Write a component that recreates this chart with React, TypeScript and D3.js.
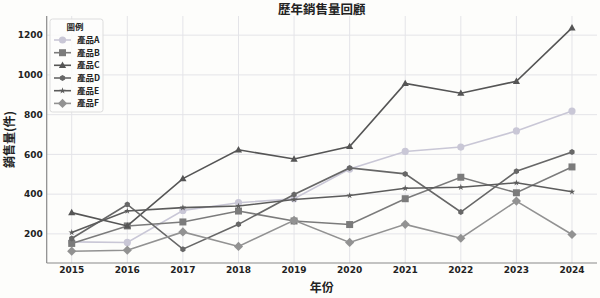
import React, { useEffect } from "react";
import * as d3 from "d3";

const years = [2015, 2016, 2017, 2018, 2019, 2020, 2021, 2022, 2023, 2024];
const seriesNames = ["產品A", "產品B", "產品C", "產品D", "產品E", "產品F"];
const productA = [160, 157, 318, 357, 377, 526, 615, 637, 718, 818];
const productB = [152, 240, 260, 315, 265, 247, 377, 485, 407, 537];
const productC = [307, 240, 478, 623, 577, 640, 957, 908, 968, 1237];
const productD = [177, 348, 123, 248, 398, 532, 502, 310, 515, 612];
const productE = [207, 315, 332, 340, 373, 393, 430, 435, 457, 412];
const productF = [113, 118, 210, 137, 268, 157, 248, 178, 365, 197];
const yTicks = [200, 400, 600, 800, 1000, 1200];

const seriesValues = [productA, productB, productC, productD, productE, productF];
const colors = ["#c9c7d6", "#7b7b7b", "#555555", "#676767", "#5c5c5c", "#929292"];
const markers = ["circle", "square", "triangle", "hexagon", "star", "diamond"];
const markerSize = [3.6, 3.5, 3.8, 3, 2.0, 4.6];

const W = 600, H = 298;
const ml = 46.7, mr = 597, mt = 16, mb = 263;
const font = "'DejaVu Sans', 'Noto Sans CJK TC', sans-serif";
const cjk = "'Noto Sans CJK TC', 'DejaVu Sans', sans-serif";

function markerPath(kind: string, r: number): string {
  if (kind === "circle") return d3.symbol(d3.symbolCircle, Math.PI * r * r)() as string;
  if (kind === "square") return `M${-r},${-r}H${r}V${r}H${-r}Z`;
  if (kind === "triangle") return `M0,${-r}L${r * 0.95},${r * 0.7}L${-r * 0.95},${r * 0.7}Z`;
  if (kind === "diamond") return `M0,${-r}L${r},0L0,${r}L${-r},0Z`;
  if (kind === "hexagon") {
    const pts = d3.range(6).map((i) => {
      const a = (Math.PI / 3) * i - Math.PI / 2;
      return `${r * Math.cos(a)},${r * Math.sin(a)}`;
    });
    return "M" + pts.join("L") + "Z";
  }
  return d3.symbol(d3.symbolStar, r * r * 3.2)() as string;
}

export default function App() {
  useEffect(() => {
    document.body.style.margin = "0";
  }, []);
  const x = d3.scaleLinear().domain([2014.55, 2024.45]).range([ml, mr]);
  const y = d3.scaleLinear().domain([53.5, 1296.5]).range([mb, mt]);
  const line = d3
    .line<number>()
    .x((_, i) => x(years[i]))
    .y((v) => y(v));
  const legendRows = [40, 52.7, 65.3, 78, 90.7, 103.4];
  return (
    <svg width={W} height={H} style={{ position: "absolute", left: 0, top: 0, background: "#fdfdfb" }}>
      <rect x={0} y={0} width={W} height={H} fill="#fdfdfb" />
      {years.map((yr) => (
        <line key={"gx" + yr} x1={x(yr)} x2={x(yr)} y1={mt} y2={mb} stroke="#e4e4e8" strokeWidth={1} />
      ))}
      {yTicks.map((t) => (
        <line key={"gy" + t} x1={ml} x2={mr} y1={y(t)} y2={y(t)} stroke="#e4e4e8" strokeWidth={1} />
      ))}
      <line x1={ml} x2={ml} y1={mt} y2={mb} stroke="#8a8a8a" strokeWidth={1.2} />
      <line x1={ml} x2={mr} y1={mb} y2={mb} stroke="#8a8a8a" strokeWidth={1.2} />
      {yTicks.map((t) => (
        <text key={"ty" + t} x={ml - 4} y={y(t)} dy="0.35em" textAnchor="end" fontFamily={font} fontWeight="bold" fontSize={9} fill="#222">
          {t}
        </text>
      ))}
      {years.map((yr) => (
        <text key={"tx" + yr} x={x(yr)} y={mb + 10} textAnchor="middle" fontFamily={font} fontWeight="bold" fontSize={9} fill="#222">
          {yr}
        </text>
      ))}
      {seriesValues.map((vals, si) => (
        <g key={"s" + si}>
          <path d={line(vals) as string} fill="none" stroke={colors[si]} strokeWidth={1.6} />
          {vals.map((v, i) => (
            <path key={i} d={markerPath(markers[si], markerSize[si])} transform={`translate(${x(years[i])},${y(v)})`} fill={colors[si]} />
          ))}
        </g>
      ))}
      <text x={(ml + mr) / 2} y={14} textAnchor="middle" fontFamily={cjk} fontWeight="bold" fontSize={12.5} fill="#222">
        歷年銷售量回顧
      </text>
      <text x={(ml + mr) / 2} y={292} textAnchor="middle" fontFamily={cjk} fontWeight="bold" fontSize={12} fill="#222">
        年份
      </text>
      <text transform={`translate(14,${(mt + mb) / 2}) rotate(-90)`} textAnchor="middle" fontFamily={cjk} fontWeight="bold" fontSize={12} fill="#222">
        銷售量(件)
      </text>
      <g>
        <rect x={50} y={19} width={53} height={93} rx={2.5} fill="#fdfdfb" fillOpacity={0.85} stroke="#dddddd" strokeWidth={1} />
        <text x={75} y={30} textAnchor="middle" fontFamily={cjk} fontWeight="bold" fontSize={8.5} fill="#222">
          圖例
        </text>
        {seriesNames.map((name, si) => (
          <g key={"l" + si}>
            <line x1={54} x2={71} y1={legendRows[si]} y2={legendRows[si]} stroke={colors[si]} strokeWidth={1.6} />
            <path d={markerPath(markers[si], markerSize[si])} transform={`translate(62.5,${legendRows[si]})`} fill={colors[si]} />
            <text x={77} y={legendRows[si]} dy="0.35em" fontFamily={cjk} fontWeight="bold" fontSize={8.5} fill="#222">
              {name}
            </text>
          </g>
        ))}
      </g>
    </svg>
  );
}
